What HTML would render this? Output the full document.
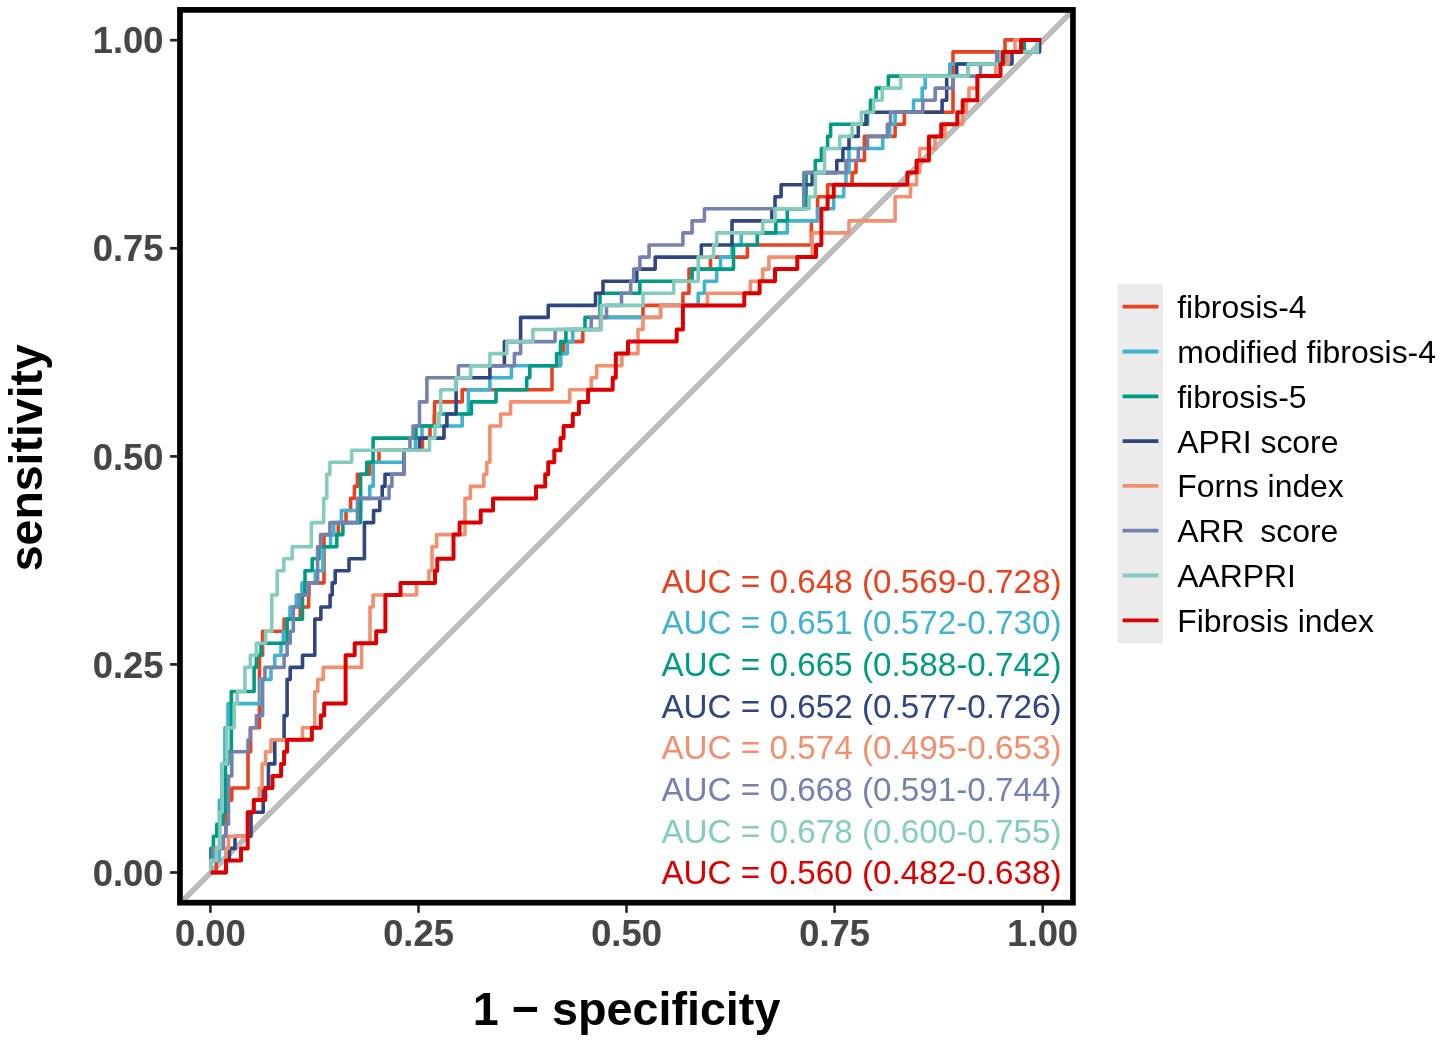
<!DOCTYPE html>
<html><head><meta charset="utf-8"><title>ROC curves</title>
<style>
html,body{margin:0;padding:0;background:#fff;}
body{width:1441px;height:1042px;overflow:hidden;}
svg{display:block;}
text{font-family:"Liberation Sans",Arial,sans-serif;}
.tick{font-weight:bold;font-size:36.3px;fill:#464646;stroke:#464646;stroke-width:0.15px;}
.title{font-weight:bold;font-size:46.7px;fill:#000;}
.leg{font-size:31.9px;fill:#000;}
.auc{font-size:33.25px;}
</style></head><body>
<svg width="1441" height="1042" viewBox="0 0 1441 1042">
<rect x="0" y="0" width="1441" height="1042" fill="#ffffff"/>
<defs><clipPath id="pc"><rect x="180" y="10" width="893" height="892.6"/></clipPath></defs>
<g clip-path="url(#pc)">
<line x1="160.5" y1="922.9" x2="1092.6" y2="-9.2" stroke="#a6a6a6" stroke-width="5.2"/>
<line x1="160.5" y1="922.9" x2="1092.6" y2="-9.2" stroke="#bebebe" stroke-width="3.6"/>
<path d="M210.8,872.5 L216.2,872.5 L216.2,848.4 L223.3,848.4 L223.3,836.3 L225.9,836.3 L225.9,800.1 L231.8,800.1 L231.8,788.0 L248.0,788.0 L248.0,751.8 L250.6,751.8 L250.6,727.7 L259.5,727.7 L259.5,655.3 L262.6,655.3 L262.6,631.2 L284.1,631.2 L284.1,619.1 L300.2,619.1 L300.2,607.0 L308.6,607.0 L308.6,595.0 L309.0,595.0 L309.0,582.9 L324.0,582.9 L324.0,534.6 L338.3,534.6 L338.3,522.6 L346.0,522.6 L346.0,510.5 L350.6,510.5 L350.6,498.4 L354.4,498.4 L354.4,486.4 L357.4,486.4 L357.4,474.3 L369.8,474.3 L369.8,462.2 L379.0,462.2 L379.0,450.2 L422.5,450.2 L422.5,438.1 L430.0,438.1 L430.0,426.0 L434.2,426.0 L434.2,414.0 L434.6,414.0 L434.6,401.9 L462.2,401.9 L462.2,389.8 L552.0,389.8 L552.0,365.7 L560.5,365.7 L560.5,353.6 L563.6,353.6 L563.6,341.6 L582.8,341.6 L582.8,329.5 L600.5,329.5 L600.5,317.4 L643.0,317.4 L643.0,305.4 L682.9,305.4 L682.9,293.3 L689.0,293.3 L689.0,269.1 L710.5,269.1 L710.5,257.1 L747.4,257.1 L747.4,245.0 L811.4,245.0 L811.4,220.9 L817.6,220.9 L817.6,196.7 L827.6,196.7 L827.6,184.7 L852.1,184.7 L852.1,172.6 L856.0,172.6 L856.0,160.5 L864.4,160.5 L864.4,136.4 L895.1,136.4 L895.1,124.3 L904.3,124.3 L904.3,112.3 L953.0,112.3 L953.0,51.9 L1005.0,51.9 L1005.0,39.9 L1041.2,39.9" fill="none" stroke="#E8421F" stroke-width="3.6" stroke-linejoin="round" stroke-linecap="butt"/>
<path d="M210.8,872.5 L210.8,860.4 L219.4,860.4 L219.4,800.1 L222.0,800.1 L222.0,763.9 L224.9,763.9 L224.9,727.7 L228.0,727.7 L228.0,703.6 L260.3,703.6 L260.3,679.4 L271.0,679.4 L271.0,667.4 L274.8,667.4 L274.8,655.3 L281.0,655.3 L281.0,643.2 L283.3,643.2 L283.3,631.2 L286.5,631.2 L286.5,619.1 L290.0,619.1 L290.0,607.0 L296.3,607.0 L296.3,595.0 L302.0,595.0 L302.0,582.9 L315.3,582.9 L315.3,570.8 L323.0,570.8 L323.0,546.7 L330.6,546.7 L330.6,534.6 L333.7,534.6 L333.7,522.6 L341.4,522.6 L341.4,510.5 L360.6,510.5 L360.6,498.4 L369.8,498.4 L369.8,486.4 L373.2,486.4 L373.2,462.2 L404.0,462.2 L404.0,450.2 L415.4,450.2 L415.4,438.1 L422.0,438.1 L422.0,426.0 L462.2,426.0 L462.2,414.0 L468.4,414.0 L468.4,389.8 L489.9,389.8 L489.9,377.8 L511.4,377.8 L511.4,365.7 L560.5,365.7 L560.5,353.6 L567.4,353.6 L567.4,341.6 L572.8,341.6 L572.8,329.5 L601.0,329.5 L601.0,317.4 L660.6,317.4 L660.6,305.4 L698.2,305.4 L698.2,293.3 L704.4,293.3 L704.4,281.2 L716.7,281.2 L716.7,269.1 L720.5,269.1 L720.5,257.1 L732.0,257.1 L732.0,245.0 L741.2,245.0 L741.2,232.9 L787.3,232.9 L787.3,220.9 L817.6,220.9 L817.6,208.8 L833.7,208.8 L833.7,196.7 L843.7,196.7 L843.7,184.7 L846.0,184.7 L846.0,172.6 L849.0,172.6 L849.0,148.5 L882.8,148.5 L882.8,136.4 L889.7,136.4 L889.7,124.3 L895.1,124.3 L895.1,112.3 L913.5,112.3 L913.5,100.2 L922.2,100.2 L922.2,88.1 L925.2,88.1 L925.2,76.1 L949.8,76.1 L949.8,64.0 L1005.8,64.0 L1005.8,51.9 L1021.0,51.9 L1021.0,39.9 L1041.2,39.9" fill="none" stroke="#3FB4D2" stroke-width="3.6" stroke-linejoin="round" stroke-linecap="butt"/>
<path d="M210.8,872.5 L210.8,848.4 L213.4,848.4 L213.4,836.3 L216.8,836.3 L216.8,824.2 L223.0,824.2 L223.0,812.2 L225.5,812.2 L225.5,763.9 L228.0,763.9 L228.0,751.8 L231.3,751.8 L231.3,691.5 L254.1,691.5 L254.1,667.4 L256.4,667.4 L256.4,655.3 L261.0,655.3 L261.0,643.2 L287.1,643.2 L287.1,619.1 L302.5,619.1 L302.5,595.0 L305.0,595.0 L305.0,570.8 L312.2,570.8 L312.2,558.8 L319.0,558.8 L319.0,546.7 L336.8,546.7 L336.8,534.6 L342.9,534.6 L342.9,522.6 L360.6,522.6 L360.6,474.3 L366.7,474.3 L366.7,462.2 L373.1,462.2 L373.1,438.1 L416.0,438.1 L416.0,426.0 L438.5,426.0 L438.5,414.0 L471.4,414.0 L471.4,401.9 L496.0,401.9 L496.0,389.8 L526.7,389.8 L526.7,377.8 L529.8,377.8 L529.8,365.7 L556.6,365.7 L556.6,353.6 L560.5,353.6 L560.5,341.6 L565.9,341.6 L565.9,329.5 L585.0,329.5 L585.0,317.4 L600.0,317.4 L600.0,293.3 L639.9,293.3 L639.9,281.2 L692.1,281.2 L692.1,269.1 L733.5,269.1 L733.5,245.0 L757.3,245.0 L757.3,232.9 L775.8,232.9 L775.8,220.9 L787.3,220.9 L787.3,208.8 L806.1,208.8 L806.1,172.6 L815.3,172.6 L815.3,160.5 L821.4,160.5 L821.4,148.5 L827.6,148.5 L827.6,136.4 L830.6,136.4 L830.6,124.3 L867.5,124.3 L867.5,112.3 L870.5,112.3 L870.5,100.2 L876.1,100.2 L876.1,88.1 L888.4,88.1 L888.4,76.1 L968.2,76.1 L968.2,64.0 L1000.0,64.0 L1000.0,51.9 L1024.3,51.9 L1024.3,39.9 L1041.2,39.9" fill="none" stroke="#009C82" stroke-width="3.6" stroke-linejoin="round" stroke-linecap="butt"/>
<path d="M210.8,872.5 L225.9,872.5 L225.9,860.4 L229.4,860.4 L229.4,848.4 L235.0,848.4 L235.0,836.3 L251.0,836.3 L251.0,812.2 L263.2,812.2 L263.2,788.0 L268.4,788.0 L268.4,763.9 L274.8,763.9 L274.8,739.8 L284.1,739.8 L284.1,715.6 L287.1,715.6 L287.1,679.4 L290.2,679.4 L290.2,667.4 L302.5,667.4 L302.5,655.3 L314.8,655.3 L314.8,619.1 L320.9,619.1 L320.9,607.0 L330.1,607.0 L330.1,595.0 L332.2,595.0 L332.2,582.9 L335.2,582.9 L335.2,570.8 L349.0,570.8 L349.0,558.8 L364.4,558.8 L364.4,522.6 L373.6,522.6 L373.6,510.5 L379.8,510.5 L379.8,498.4 L382.2,498.4 L382.2,486.4 L385.0,486.4 L385.0,474.3 L404.0,474.3 L404.0,450.2 L419.5,450.2 L419.5,438.1 L444.0,438.1 L444.0,426.0 L446.9,426.0 L446.9,414.0 L456.1,414.0 L456.1,377.8 L489.9,377.8 L489.9,365.7 L504.4,365.7 L504.4,341.6 L520.6,341.6 L520.6,317.4 L548.2,317.4 L548.2,305.4 L595.5,305.4 L595.5,293.3 L603.0,293.3 L603.0,281.2 L636.8,281.2 L636.8,269.1 L655.2,269.1 L655.2,257.1 L701.3,257.1 L701.3,245.0 L732.0,245.0 L732.0,220.9 L771.9,220.9 L771.9,208.8 L775.0,208.8 L775.0,196.7 L781.1,196.7 L781.1,184.7 L812.2,184.7 L812.2,172.6 L836.8,172.6 L836.8,160.5 L842.9,160.5 L842.9,148.5 L849.0,148.5 L849.0,136.4 L858.3,136.4 L858.3,124.3 L866.0,124.3 L866.0,112.3 L942.1,112.3 L942.1,100.2 L946.7,100.2 L946.7,76.1 L956.7,76.1 L956.7,64.0 L1012.0,64.0 L1012.0,51.9 L1039.6,51.9 L1039.6,39.9 L1041.2,39.9" fill="none" stroke="#2F4680" stroke-width="3.6" stroke-linejoin="round" stroke-linecap="butt"/>
<path d="M210.8,872.5 L225.9,872.5 L225.9,848.4 L228.5,848.4 L228.5,836.3 L247.7,836.3 L247.7,812.2 L253.8,812.2 L253.8,800.1 L259.2,800.1 L259.2,788.0 L262.1,788.0 L262.1,763.9 L265.6,763.9 L265.6,751.8 L271.0,751.8 L271.0,739.8 L302.5,739.8 L302.5,727.7 L314.8,727.7 L314.8,691.5 L317.8,691.5 L317.8,679.4 L323.2,679.4 L323.2,667.4 L361.6,667.4 L361.6,643.2 L370.0,643.2 L370.0,607.0 L373.1,607.0 L373.1,595.0 L416.6,595.0 L416.6,582.9 L428.9,582.9 L428.9,570.8 L432.0,570.8 L432.0,546.7 L436.6,546.7 L436.6,534.6 L465.0,534.6 L465.0,498.4 L470.4,498.4 L470.4,486.4 L483.8,486.4 L483.8,474.3 L486.8,474.3 L486.8,462.2 L489.9,462.2 L489.9,426.0 L500.6,426.0 L500.6,414.0 L510.6,414.0 L510.6,401.9 L569.7,401.9 L569.7,389.8 L591.2,389.8 L591.2,377.8 L596.6,377.8 L596.6,365.7 L621.9,365.7 L621.9,353.6 L638.0,353.6 L638.0,329.5 L643.0,329.5 L643.0,317.4 L660.6,317.4 L660.6,305.4 L707.4,305.4 L707.4,293.3 L750.4,293.3 L750.4,281.2 L762.7,281.2 L762.7,269.1 L768.9,269.1 L768.9,257.1 L812.2,257.1 L812.2,232.9 L849.0,232.9 L849.0,220.9 L895.1,220.9 L895.1,196.7 L910.5,196.7 L910.5,184.7 L916.6,184.7 L916.6,172.6 L919.7,172.6 L919.7,148.5 L935.0,148.5 L935.0,136.4 L945.0,136.4 L945.0,124.3 L962.7,124.3 L962.7,112.3 L966.5,112.3 L966.5,100.2 L969.0,100.2 L969.0,88.1 L977.4,88.1 L977.4,76.1 L995.9,76.1 L995.9,64.0 L1008.1,64.0 L1008.1,51.9 L1015.0,51.9 L1015.0,39.9 L1041.2,39.9" fill="none" stroke="#F28F6E" stroke-width="3.6" stroke-linejoin="round" stroke-linecap="butt"/>
<path d="M210.8,872.5 L210.8,860.4 L213.0,860.4 L213.0,848.4 L223.3,848.4 L223.3,836.3 L225.9,836.3 L225.9,824.2 L228.5,824.2 L228.5,776.0 L231.8,776.0 L231.8,751.8 L248.0,751.8 L248.0,739.8 L250.3,739.8 L250.3,727.7 L256.4,727.7 L256.4,715.6 L262.6,715.6 L262.6,679.4 L264.9,679.4 L264.9,667.4 L284.1,667.4 L284.1,655.3 L287.1,655.3 L287.1,643.2 L290.2,643.2 L290.2,631.2 L293.3,631.2 L293.3,607.0 L299.4,607.0 L299.4,595.0 L307.8,595.0 L307.8,582.9 L317.6,582.9 L317.6,546.7 L320.6,546.7 L320.6,534.6 L329.9,534.6 L329.9,522.6 L357.5,522.6 L357.5,498.4 L389.1,498.4 L389.1,486.4 L391.9,486.4 L391.9,474.3 L404.1,474.3 L404.1,450.2 L410.0,450.2 L410.0,438.1 L413.0,438.1 L413.0,426.0 L419.5,426.0 L419.5,401.9 L426.9,401.9 L426.9,377.8 L458.4,377.8 L458.4,365.7 L514.4,365.7 L514.4,353.6 L520.6,353.6 L520.6,341.6 L555.1,341.6 L555.1,329.5 L591.2,329.5 L591.2,317.4 L606.5,317.4 L606.5,305.4 L621.5,305.4 L621.5,293.3 L630.7,293.3 L630.7,281.2 L633.7,281.2 L633.7,269.1 L639.9,269.1 L639.9,257.1 L649.1,257.1 L649.1,245.0 L682.9,245.0 L682.9,232.9 L692.1,232.9 L692.1,220.9 L704.4,220.9 L704.4,208.8 L803.8,208.8 L803.8,172.6 L846.0,172.6 L846.0,160.5 L858.3,160.5 L858.3,148.5 L867.5,148.5 L867.5,136.4 L887.4,136.4 L887.4,124.3 L890.5,124.3 L890.5,112.3 L922.8,112.3 L922.8,100.2 L935.2,100.2 L935.2,88.1 L952.9,88.1 L952.9,76.1 L980.5,76.1 L980.5,64.0 L996.6,64.0 L996.6,51.9 L1037.3,51.9 L1037.3,39.9 L1041.2,39.9" fill="none" stroke="#7482AD" stroke-width="3.6" stroke-linejoin="round" stroke-linecap="butt"/>
<path d="M210.8,872.5 L210.8,860.4 L216.4,860.4 L216.4,848.4 L219.9,848.4 L219.9,812.2 L222.2,812.2 L222.2,763.9 L226.8,763.9 L226.8,727.7 L234.2,727.7 L234.2,703.6 L237.2,703.6 L237.2,691.5 L244.9,691.5 L244.9,667.4 L250.3,667.4 L250.3,655.3 L256.4,655.3 L256.4,643.2 L265.6,643.2 L265.6,631.2 L271.8,631.2 L271.8,595.0 L277.2,595.0 L277.2,570.8 L283.8,570.8 L283.8,558.8 L292.2,558.8 L292.2,546.7 L311.4,546.7 L311.4,522.6 L323.7,522.6 L323.7,498.4 L326.8,498.4 L326.8,474.3 L329.9,474.3 L329.9,462.2 L351.6,462.2 L351.6,450.2 L429.5,450.2 L429.5,438.1 L435.0,438.1 L435.0,426.0 L438.5,426.0 L438.5,414.0 L440.7,414.0 L440.7,389.8 L456.1,389.8 L456.1,377.8 L470.7,377.8 L470.7,365.7 L489.9,365.7 L489.9,353.6 L506.8,353.6 L506.8,341.6 L532.9,341.6 L532.9,329.5 L601.2,329.5 L601.2,305.4 L643.0,305.4 L643.0,293.3 L673.7,293.3 L673.7,281.2 L698.2,281.2 L698.2,257.1 L713.6,257.1 L713.6,245.0 L716.7,245.0 L716.7,232.9 L762.7,232.9 L762.7,220.9 L775.0,220.9 L775.0,208.8 L809.1,208.8 L809.1,196.7 L815.3,196.7 L815.3,172.6 L824.5,172.6 L824.5,148.5 L839.8,148.5 L839.8,136.4 L852.1,136.4 L852.1,124.3 L861.3,124.3 L861.3,112.3 L873.6,112.3 L873.6,100.2 L882.2,100.2 L882.2,88.1 L900.7,88.1 L900.7,76.1 L968.2,76.1 L968.2,64.0 L1001.0,64.0 L1001.0,51.9 L1037.3,51.9 L1037.3,39.9 L1041.2,39.9" fill="none" stroke="#84CCBB" stroke-width="3.6" stroke-linejoin="round" stroke-linecap="butt"/>
<path d="M210.8,872.5 L226.0,872.5 L226.0,860.4 L241.0,860.4 L241.0,848.4 L247.7,848.4 L247.7,812.2 L253.8,812.2 L253.8,800.1 L265.3,800.1 L265.3,788.0 L272.5,788.0 L272.5,776.0 L281.1,776.0 L281.1,763.9 L284.1,763.9 L284.1,751.8 L287.1,751.8 L287.1,739.8 L311.9,739.8 L311.9,727.7 L320.8,727.7 L320.8,715.6 L324.2,715.6 L324.2,703.6 L345.6,703.6 L345.6,655.3 L354.7,655.3 L354.7,643.2 L376.2,643.2 L376.2,631.2 L385.4,631.2 L385.4,595.0 L400.5,595.0 L400.5,582.9 L435.0,582.9 L435.0,570.8 L437.3,570.8 L437.3,558.8 L453.5,558.8 L453.5,534.6 L459.6,534.6 L459.6,522.6 L480.7,522.6 L480.7,510.5 L493.0,510.5 L493.0,498.4 L536.0,498.4 L536.0,486.4 L545.2,486.4 L545.2,474.3 L548.2,474.3 L548.2,462.2 L554.3,462.2 L554.3,450.2 L560.5,450.2 L560.5,438.1 L563.6,438.1 L563.6,426.0 L572.8,426.0 L572.8,414.0 L578.9,414.0 L578.9,401.9 L588.1,401.9 L588.1,389.8 L612.7,389.8 L612.7,377.8 L615.8,377.8 L615.8,353.6 L628.0,353.6 L628.0,341.6 L676.7,341.6 L676.7,329.5 L682.9,329.5 L682.9,305.4 L744.3,305.4 L744.3,293.3 L759.6,293.3 L759.6,281.2 L775.0,281.2 L775.0,269.1 L797.3,269.1 L797.3,257.1 L816.0,257.1 L816.0,245.0 L821.4,245.0 L821.4,208.8 L827.6,208.8 L827.6,196.7 L833.7,196.7 L833.7,184.7 L907.4,184.7 L907.4,172.6 L916.6,172.6 L916.6,160.5 L928.9,160.5 L928.9,136.4 L941.2,136.4 L941.2,124.3 L957.3,124.3 L957.3,112.3 L962.7,112.3 L962.7,100.2 L977.4,100.2 L977.4,76.1 L1000.5,76.1 L1000.5,64.0 L1002.8,64.0 L1002.8,51.9 L1021.2,51.9 L1021.2,39.9 L1041.2,39.9" fill="none" stroke="#DC0000" stroke-width="4" stroke-linejoin="round" stroke-linecap="butt"/>
</g>
<rect x="179.95" y="9.9" width="893" height="892.8" fill="none" stroke="#000" stroke-width="5.7"/>
<line x1="210.4" y1="905" x2="210.4" y2="912.8" stroke="#222" stroke-width="2.6"/>
<text class="tick" x="210.4" y="946.2" text-anchor="middle">0.00</text>
<line x1="170.1" y1="872.5" x2="177.4" y2="872.5" stroke="#222" stroke-width="2.7"/>
<text class="tick" x="163.4" y="885.6" text-anchor="end">0.00</text>
<line x1="418.5" y1="905" x2="418.5" y2="912.8" stroke="#222" stroke-width="2.6"/>
<text class="tick" x="418.5" y="946.2" text-anchor="middle">0.25</text>
<line x1="170.1" y1="664.4" x2="177.4" y2="664.4" stroke="#222" stroke-width="2.7"/>
<text class="tick" x="163.4" y="677.5" text-anchor="end">0.25</text>
<line x1="626.5" y1="905" x2="626.5" y2="912.8" stroke="#222" stroke-width="2.6"/>
<text class="tick" x="626.5" y="946.2" text-anchor="middle">0.50</text>
<line x1="170.1" y1="456.4" x2="177.4" y2="456.4" stroke="#222" stroke-width="2.7"/>
<text class="tick" x="163.4" y="469.5" text-anchor="end">0.50</text>
<line x1="834.6" y1="905" x2="834.6" y2="912.8" stroke="#222" stroke-width="2.6"/>
<text class="tick" x="834.6" y="946.2" text-anchor="middle">0.75</text>
<line x1="170.1" y1="248.3" x2="177.4" y2="248.3" stroke="#222" stroke-width="2.7"/>
<text class="tick" x="163.4" y="261.4" text-anchor="end">0.75</text>
<line x1="1042.7" y1="905" x2="1042.7" y2="912.8" stroke="#222" stroke-width="2.6"/>
<text class="tick" x="1042.7" y="946.2" text-anchor="middle">1.00</text>
<line x1="170.1" y1="40.2" x2="177.4" y2="40.2" stroke="#222" stroke-width="2.7"/>
<text class="tick" x="163.4" y="53.3" text-anchor="end">1.00</text>
<text class="title" x="626.6" y="1024.6" text-anchor="middle">1 − specificity</text>
<text class="title" style="font-size:46.45px" transform="translate(41.7,457.7) rotate(-90)" text-anchor="middle">sensitivity</text>
<rect x="1117.6" y="284" width="45.4" height="359.3" fill="#ebebeb"/>
<line x1="1122.6" y1="306.7" x2="1158.4" y2="306.7" stroke="#E8421F" stroke-width="3.8"/>
<text class="leg" x="1177.2" y="318.1" xml:space="preserve" style="white-space:pre">fibrosis-4</text>
<line x1="1122.6" y1="351.5" x2="1158.4" y2="351.5" stroke="#3FB4D2" stroke-width="3.8"/>
<text class="leg" x="1177.2" y="362.9" xml:space="preserve" style="white-space:pre">modified fibrosis-4</text>
<line x1="1122.6" y1="396.3" x2="1158.4" y2="396.3" stroke="#009C82" stroke-width="3.8"/>
<text class="leg" x="1177.2" y="407.7" xml:space="preserve" style="white-space:pre">fibrosis-5</text>
<line x1="1122.6" y1="441.1" x2="1158.4" y2="441.1" stroke="#2F4680" stroke-width="3.8"/>
<text class="leg" x="1177.2" y="452.5" xml:space="preserve" style="white-space:pre">APRI score</text>
<line x1="1122.6" y1="485.9" x2="1158.4" y2="485.9" stroke="#F28F6E" stroke-width="3.8"/>
<text class="leg" x="1177.2" y="497.3" xml:space="preserve" style="white-space:pre">Forns index</text>
<line x1="1122.6" y1="530.7" x2="1158.4" y2="530.7" stroke="#7482AD" stroke-width="3.8"/>
<text class="leg" x="1177.2" y="542.1" xml:space="preserve" style="white-space:pre">ARR  <tspan dx="-1.9">score</tspan></text>
<line x1="1122.6" y1="575.5" x2="1158.4" y2="575.5" stroke="#84CCBB" stroke-width="3.8"/>
<text class="leg" x="1177.2" y="586.9" xml:space="preserve" style="white-space:pre">AARPRI</text>
<line x1="1122.6" y1="620.3" x2="1158.4" y2="620.3" stroke="#DC0000" stroke-width="3.8"/>
<text class="leg" x="1177.2" y="631.7" xml:space="preserve" style="white-space:pre">Fibrosis index</text>
<text class="auc" x="1061.6" y="592.7" text-anchor="end" fill="#E8421F">AUC = 0.648 (0.569-0.728)</text>
<text class="auc" x="1061.6" y="634.4" text-anchor="end" fill="#3FB4D2">AUC = 0.651 (0.572-0.730)</text>
<text class="auc" x="1061.6" y="676.0" text-anchor="end" fill="#009C82">AUC = 0.665 (0.588-0.742)</text>
<text class="auc" x="1061.6" y="717.7" text-anchor="end" fill="#2F4680">AUC = 0.652 (0.577-0.726)</text>
<text class="auc" x="1061.6" y="759.4" text-anchor="end" fill="#F28F6E">AUC = 0.574 (0.495-0.653)</text>
<text class="auc" x="1061.6" y="801.1" text-anchor="end" fill="#7482AD">AUC = 0.668 (0.591-0.744)</text>
<text class="auc" x="1061.6" y="842.7" text-anchor="end" fill="#84CCBB">AUC = 0.678 (0.600-0.755)</text>
<text class="auc" x="1061.6" y="884.4" text-anchor="end" fill="#DC0000">AUC = 0.560 (0.482-0.638)</text>
</svg>
</body></html>
